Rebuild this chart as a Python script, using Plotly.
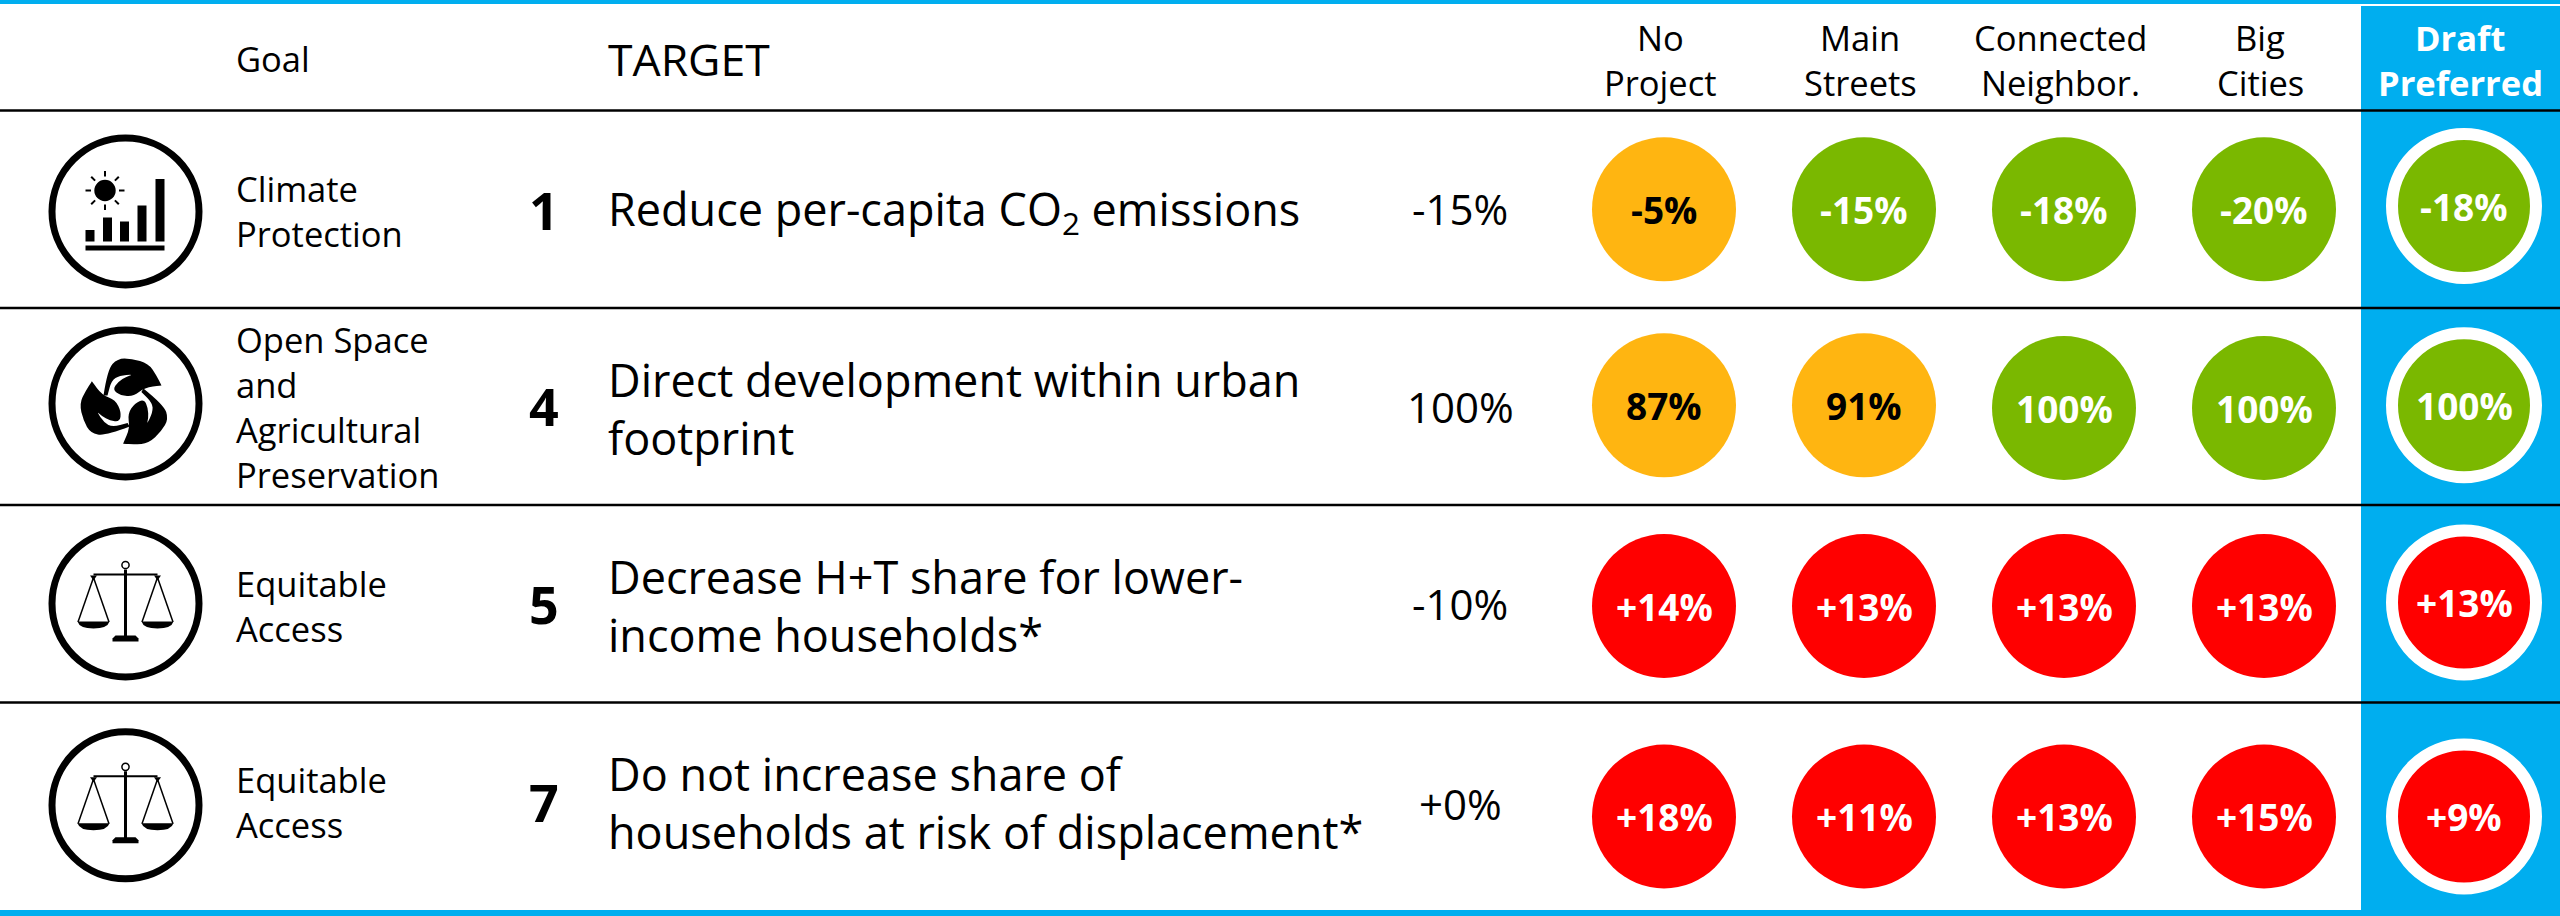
"""Scenario scorecard: plan targets against four scenarios and the draft preferred one."""

import math

import plotly.graph_objects as go

# ---------------------------------------------------------------------------
# Data
# ---------------------------------------------------------------------------

GOALS = [
    "Climate<br>Protection",
    "Open Space<br>and<br>Agricultural<br>Preservation",
    "Equitable<br>Access",
    "Equitable<br>Access",
]
TARGET_NUMBERS = ["1", "4", "5", "7"]
TARGETS = [
    "Reduce per-capita CO<sub>2</sub> emissions",
    "Direct development within urban<br>footprint",
    "Decrease H+T share for lower-<br>income households*",
    "Do not increase share of<br>households at risk of displacement*",
]
TARGET_VALUES = ["-15%", "100%", "-10%", "+0%"]

SCENARIOS = ["No<br>Project", "Main<br>Streets", "Connected<br>Neighbor.", "Big<br>Cities"]
NO_PROJECT = ["-5%", "87%", "+14%", "+18%"]
MAIN_STREETS = ["-15%", "91%", "+13%", "+11%"]
CONNECTED = ["-18%", "100%", "+13%", "+13%"]
BIG_CITIES = ["-20%", "100%", "+13%", "+15%"]
DRAFT_PREFERRED = ["-18%", "100%", "+13%", "+9%"]

NO_PROJECT_STATUS = ["near", "near", "miss", "miss"]
MAIN_STREETS_STATUS = ["met", "near", "miss", "miss"]
CONNECTED_STATUS = ["met", "met", "miss", "miss"]
BIG_CITIES_STATUS = ["met", "met", "miss", "miss"]
DRAFT_STATUS = ["met", "met", "miss", "miss"]

# ---------------------------------------------------------------------------
# Layout and style (pixels, the axes run 1:1 with the page)
# ---------------------------------------------------------------------------

W, H = 2560, 916
BLUE = "#00AEEF"
STATUS_COLORS = {"met": "#7AB800", "near": "#FFB511", "miss": "#FF0000"}
STATUS_TEXT = {"met": "white", "near": "black", "miss": "white"}
FONT = "Open Sans"

COL_X = [1664, 1864, 2064, 2264]
PREF_X = 2464
CELL_Y = [
    [209.3, 209.3, 209.3, 209.3],
    [405.3, 405.3, 408, 408],
    [606, 606, 606, 606],
    [816.5, 816.5, 816.5, 816.5],
]
PREF_Y = [206, 405.3, 602.5, 816.5]
ICON_Y = [211.5, 403.5, 603.5, 805.3]
GOAL_TEXT_Y = [211, 407, 606, 802]
TARGET_TEXT_Y = [211, 408.5, 605.5, 802.5]
NUMBER_Y = [209, 405, 603, 801]
VALUE_Y = [208, 406, 603, 803]
HEADER_Y = 60
ROW_LINES = [110.5, 308, 505, 702.5]
ICON_X = 125.5
CELL_FONT = 37


def add_text(fig, x, y, text, size, spacing=None, color="black", bold=False, anchor="left"):
    """One annotation per line so the line spacing can follow the reference."""
    lines = text.split("<br>")
    spacing = spacing or size * 1.33
    top = y - spacing * (len(lines) - 1) / 2
    for i, line in enumerate(lines):
        label = f"<b>{line}</b>" if bold else line
        fig.add_annotation(
            x=x, y=top + i * spacing, text=label, showarrow=False, xanchor=anchor, yanchor="middle",
            font=dict(family=FONT, size=size, color=color),
        )


def add_path(fig, path, fill="black", line_width=0, line_color="black"):
    fig.add_shape(
        type="path", path=path, fillcolor=fill, layer="above",
        line=dict(width=line_width, color=line_color),
    )


def add_line(fig, x0, y0, x1, y1, width=2, color="black"):
    fig.add_shape(type="line", x0=x0, y0=y0, x1=x1, y1=y1, layer="above",
                  line=dict(width=width, color=color))


def add_box(fig, x0, y0, x1, y1, color="black"):
    fig.add_shape(type="rect", x0=x0, y0=y0, x1=x1, y1=y1, fillcolor=color,
                  line=dict(width=0), layer="above")


def add_ring(fig, cx, cy, r, width=7, fill="rgba(0,0,0,0)"):
    fig.add_shape(type="circle", x0=cx - r, y0=cy - r, x1=cx + r, y1=cy + r, layer="above",
                  fillcolor=fill, line=dict(width=width, color="black"))


def climate_icon(fig, cx, cy):
    # bars, left to right: left edge, top (relative to the ring centre)
    for dx, top in [(-40, 18.5), (-22.5, 6), (-5.5, 10), (12, -6), (30, -32.5)]:
        add_box(fig, cx + dx, cy + top, cx + dx + 9, cy + 30)
    add_box(fig, cx - 40, cy + 34, cx + 39, cy + 39)
    sx, sy = cx - 20.5, cy - 21
    add_ring(fig, sx, sy, 10.7, width=0, fill="black")
    for k in range(8):
        a = k * math.pi / 4
        add_line(fig, sx + 14 * math.cos(a), sy + 14 * math.sin(a),
                 sx + 19.5 * math.cos(a), sy + 19.5 * math.sin(a), width=2)


# one leaf, offsets from the ring centre; the other two are rotations
# the tip is listed twice so it stays sharp
LEAF = [
    (-22, -8), (-18, -34), (-8, -45), (6, -45), (23, -40), (31, -28), (36, -18), (36, -18),
    (19, -16), (8, -7), (-5, -8), (-13, -14), (-7, -22), (1, -27), (8, -29),
    (-6, -28), (-14, -23), (-18, -8),
]


def leaf_icon(fig, cx, cy):
    for k in range(3):
        a = k * 2 * math.pi / 3
        pts = [(cx + x * math.cos(a) - y * math.sin(a), cy + x * math.sin(a) + y * math.cos(a))
               for x, y in LEAF]
        path = f"M{pts[0][0]:.1f},{pts[0][1]:.1f}"
        for i in range(1, len(pts) - 1):
            mx = (pts[i][0] + pts[i + 1][0]) / 2
            my = (pts[i][1] + pts[i + 1][1]) / 2
            path += f" Q{pts[i][0]:.1f},{pts[i][1]:.1f} {mx:.1f},{my:.1f}"
        path += f" L{pts[-1][0]:.1f},{pts[-1][1]:.1f} Z"
        add_path(fig, path)


def scale_icon(fig, cx, cy):
    add_box(fig, cx - 1.5, cy - 34, cx + 1.5, cy + 36)
    add_ring(fig, cx, cy - 38.5, 3.6, width=1.5)
    add_box(fig, cx - 32, cy - 30, cx + 32, cy - 28)
    add_path(fig, f"M{cx-10},{cy+32} L{cx+10},{cy+32} L{cx+13},{cy+35} L{cx+13},{cy+38} L{cx-13},{cy+38} L{cx-13},{cy+35} Z")
    for side in (-1, 1):
        hx = cx + side * 32
        add_path(fig, f"M{hx-3.5},{cy-28} L{hx+3.5},{cy-28} L{hx},{cy-23} Z")
        add_line(fig, hx, cy - 26, hx - 15.5, cy + 18.5, width=1.5)
        add_line(fig, hx, cy - 26, hx + 15.5, cy + 18.5, width=1.5)
        add_path(fig, f"M{hx-16},{cy+18} L{hx+16},{cy+18} Q{hx+14},{cy+25} {hx},{cy+25} "
                      f"Q{hx-14},{cy+25} {hx-16},{cy+18} Z")


fig = go.Figure()

# background bands
fig.add_shape(type="rect", x0=2361, x1=W, y0=6, y1=H, fillcolor=BLUE, line=dict(width=0), layer="below")
fig.add_shape(type="rect", x0=0, x1=W, y0=0, y1=4, fillcolor=BLUE, line=dict(width=0), layer="below")
fig.add_shape(type="rect", x0=0, x1=W, y0=910, y1=H, fillcolor=BLUE, line=dict(width=0), layer="below")
for y in ROW_LINES:
    fig.add_shape(type="line", x0=0, x1=W, y0=y, y1=y, line=dict(width=2.5, color="black"), layer="below")

# scenario circles
scenario_values = [NO_PROJECT, MAIN_STREETS, CONNECTED, BIG_CITIES]
scenario_status = [NO_PROJECT_STATUS, MAIN_STREETS_STATUS, CONNECTED_STATUS, BIG_CITIES_STATUS]
for c, (values, status) in enumerate(zip(scenario_values, scenario_status)):
    fig.add_trace(go.Scatter(
        x=[COL_X[c]] * len(values),
        y=[row[c] for row in CELL_Y],
        mode="markers",
        marker=dict(size=144, color=[STATUS_COLORS[s] for s in status], line=dict(width=0)),
        hoverinfo="skip",
    ))
    for i, v in enumerate(values):
        add_text(fig, COL_X[c], CELL_Y[i][c], v, CELL_FONT, color=STATUS_TEXT[status[i]], bold=True, anchor="center")

# draft preferred has a white ring
fig.add_trace(go.Scatter(
    x=[PREF_X] * len(DRAFT_PREFERRED),
    y=PREF_Y,
    mode="markers",
    marker=dict(size=144, color=[STATUS_COLORS[s] for s in DRAFT_STATUS], line=dict(width=12, color="white")),
    hoverinfo="skip",
))
for i, v in enumerate(DRAFT_PREFERRED):
    add_text(fig, PREF_X, PREF_Y[i], v, CELL_FONT, color=STATUS_TEXT[DRAFT_STATUS[i]], bold=True, anchor="center")

# header
add_text(fig, 234, 58, "Goal", 34.5)
add_text(fig, 606, 58, "TARGET", 44.5)
for x, label in zip(COL_X, SCENARIOS):
    add_text(fig, x - 4, HEADER_Y, label, 34.5, spacing=45, anchor="center")
add_text(fig, 2460, HEADER_Y, "Draft<br>Preferred", 34.5, spacing=45, color="white", bold=True, anchor="center")

# rows
for i in range(len(GOALS)):
    add_text(fig, 234, GOAL_TEXT_Y[i], GOALS[i], 34.5, spacing=45)
    add_text(fig, 544, NUMBER_Y[i], TARGET_NUMBERS[i], 52, bold=True, anchor="center")
    add_text(fig, 606, TARGET_TEXT_Y[i], TARGETS[i], 45, spacing=57.5)
    add_text(fig, 1460, VALUE_Y[i], TARGET_VALUES[i], 42, anchor="center")

# goal icons
for y in ICON_Y:
    add_ring(fig, ICON_X, y, 73.5)
climate_icon(fig, ICON_X, ICON_Y[0])
leaf_icon(fig, ICON_X, ICON_Y[1])
scale_icon(fig, ICON_X, ICON_Y[2])
scale_icon(fig, ICON_X, ICON_Y[3])

fig.update_layout(
    width=W, height=H, margin=dict(l=0, r=0, t=0, b=0, pad=0),
    paper_bgcolor="white", plot_bgcolor="white", showlegend=False,
    xaxis=dict(range=[0, W], visible=False, fixedrange=True),
    yaxis=dict(range=[H, 0], visible=False, fixedrange=True),
)

fig.write_html("out.html", post_script="document.body.style.margin='0';", config={"displayModeBar": False})
